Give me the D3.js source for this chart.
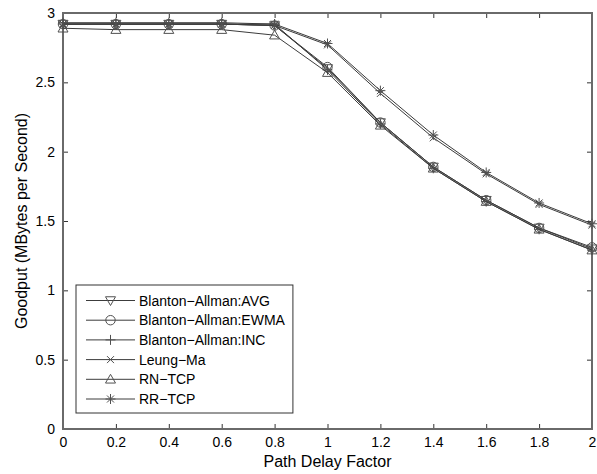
<!DOCTYPE html>
<html>
<head>
<meta charset="utf-8">
<script src="https://cdn.jsdelivr.net/npm/d3@7"></script>
<style>
  html, body { margin: 0; padding: 0; background: #fff; }
  svg { display: block; font-family: "Liberation Sans", Arial, sans-serif; }
</style>
</head>
<body>
<svg id="chart" width="597" height="474"></svg>
<script>
// Path delay factors on the x axis
const delayFactors = [0, 0.2, 0.4, 0.6, 0.8, 1.0, 1.2, 1.4, 1.6, 1.8, 2.0];

// Goodput (MBytes/s) for each scheme
const avgValues   = [2.92, 2.92, 2.92, 2.92, 2.91, 2.60, 2.21, 1.89, 1.65, 1.45, 1.30];
const ewmaValues  = [2.92, 2.92, 2.92, 2.92, 2.91, 2.61, 2.21, 1.89, 1.65, 1.45, 1.31];
const incValues   = [2.93, 2.93, 2.93, 2.93, 2.92, 2.59, 2.20, 1.88, 1.64, 1.44, 1.29];
const leungValues = [2.92, 2.92, 2.92, 2.92, 2.91, 2.77, 2.42, 2.10, 1.84, 1.62, 1.47];
const rnValues    = [2.89, 2.88, 2.88, 2.88, 2.84, 2.57, 2.19, 1.88, 1.64, 1.44, 1.29];
const rrValues    = [2.92, 2.92, 2.92, 2.92, 2.92, 2.78, 2.44, 2.12, 1.85, 1.63, 1.48];

const seriesNames = ["Blanton\u2212Allman:AVG", "Blanton\u2212Allman:EWMA", "Blanton\u2212Allman:INC",
                     "Leung\u2212Ma", "RN\u2212TCP", "RR\u2212TCP"];
const seriesMarkers = ["triDown", "circle", "plus", "cross", "triUp", "star"];
const seriesValues = [avgValues, ewmaValues, incValues, leungValues, rnValues, rrValues];

const xTicks = [0, 0.2, 0.4, 0.6, 0.8, 1, 1.2, 1.4, 1.6, 1.8, 2];
const yTicks = [0, 0.5, 1, 1.5, 2, 2.5, 3];

const plotLeft = 63, plotRight = 592, plotTop = 13, plotBottom = 429;
const lineColor = "#3c3c3c";
const markerColor = "#505050";
const axisColor = "#6a6a6a";

const svg = d3.select("#chart");
const x = d3.scaleLinear().domain([0, 2]).range([plotLeft, plotRight]);
const y = d3.scaleLinear().domain([0, 3]).range([plotBottom, plotTop]);

// Marker path generators, centred on (0,0)
function markerPath(type) {
  const s = 5;
  switch (type) {
    case "triDown": return `M${-s},${-s*0.75}L${s},${-s*0.75}L0,${s*1.0}Z`;
    case "triUp":   return `M${-s},${s*0.75}L${s},${s*0.75}L0,${-s*1.0}Z`;
    case "circle":  return d3.symbol(d3.symbolCircle, 70)();
    case "plus":    return `M${-s},0L${s},0M0,${-s}L0,${s}`;
    case "cross":   return `M${-s*0.7},${-s*0.7}L${s*0.7},${s*0.7}M${-s*0.7},${s*0.7}L${s*0.7},${-s*0.7}`;
    case "star":    return `M${-s},0L${s},0M0,${-s}L0,${s}M${-s*0.7},${-s*0.7}L${s*0.7},${s*0.7}M${-s*0.7},${s*0.7}L${s*0.7},${-s*0.7}`;
  }
}

// Axes box with inward ticks on all four sides
const axes = svg.append("g");
const bx = d3.axisBottom(x).tickValues(xTicks).tickSizeInner(-5).tickSizeOuter(0).tickPadding(8)
  .tickFormat(d3.format("~g"));
const tx = d3.axisTop(x).tickValues(xTicks).tickSizeInner(-5).tickSizeOuter(0).tickFormat("");
const ly = d3.axisLeft(y).tickValues(yTicks).tickSizeInner(-5).tickSizeOuter(0).tickPadding(8)
  .tickFormat(d3.format("~g"));
const ry = d3.axisRight(y).tickValues(yTicks).tickSizeInner(-5).tickSizeOuter(0).tickFormat("");

axes.append("g").attr("transform", `translate(0,${plotBottom})`).call(bx);
axes.append("g").attr("transform", `translate(0,${plotTop})`).call(tx);
axes.append("g").attr("transform", `translate(${plotLeft},0)`).call(ly);
axes.append("g").attr("transform", `translate(${plotRight},0)`).call(ry);
axes.selectAll(".domain").remove();
axes.selectAll(".tick line").attr("stroke", "#333").attr("stroke-width", 1);
axes.selectAll(".tick text").attr("fill", "#000").style("font-size", "14px")
  .style("font-family", "'Liberation Sans', Arial, sans-serif");

svg.append("rect").attr("x", plotLeft).attr("y", plotTop)
  .attr("width", plotRight - plotLeft).attr("height", plotBottom - plotTop)
  .attr("fill", "none").attr("stroke", axisColor).attr("stroke-width", 2);

// Series lines and markers
const line = d3.line().x((d, i) => x(delayFactors[i])).y(d => y(d));
seriesValues.forEach((vals, k) => {
  const g = svg.append("g");
  g.append("path").datum(vals).attr("d", line)
    .attr("fill", "none").attr("stroke", lineColor).attr("stroke-width", 1);
  g.selectAll("path.m").data(vals).join("path").attr("class", "m")
    .attr("d", markerPath(seriesMarkers[k]))
    .attr("transform", (d, i) => `translate(${x(delayFactors[i])},${y(d)})`)
    .attr("fill", "none").attr("stroke", markerColor).attr("stroke-width", 1);
});

// Legend: box width follows the longest entry
const lg = svg.append("g");
const box = lg.append("rect").attr("x", 76).attr("y", 285).attr("height", 128)
  .attr("fill", "#fff").attr("stroke", "#333").attr("stroke-width", 1);
let maxRight = 0;
seriesNames.forEach((name, k) => {
  const cy = 300.5 + k * 19.7;
  lg.append("line").attr("x1", 86).attr("x2", 135).attr("y1", cy).attr("y2", cy)
    .attr("stroke", lineColor).attr("stroke-width", 1);
  lg.append("path").attr("d", markerPath(seriesMarkers[k]))
    .attr("transform", `translate(110.5,${cy})`)
    .attr("fill", "none").attr("stroke", markerColor).attr("stroke-width", 1);
  const t = lg.append("text").attr("x", 139).attr("y", cy + 5).text(name)
    .style("font-size", "14px").attr("fill", "#000");
  maxRight = Math.max(maxRight, 139 + t.node().getComputedTextLength());
});
box.attr("width", maxRight + 8 - 76);

// Axis titles
svg.append("text").attr("x", (plotLeft + plotRight) / 2).attr("y", 467).attr("text-anchor", "middle")
  .style("font-size", "16px").text("Path Delay Factor");
svg.append("text").attr("transform", `translate(27,${(plotTop + plotBottom) / 2}) rotate(-90)`)
  .attr("text-anchor", "middle").style("font-size", "16px").text("Goodput (MBytes per Second)");
</script>
</body>
</html>
